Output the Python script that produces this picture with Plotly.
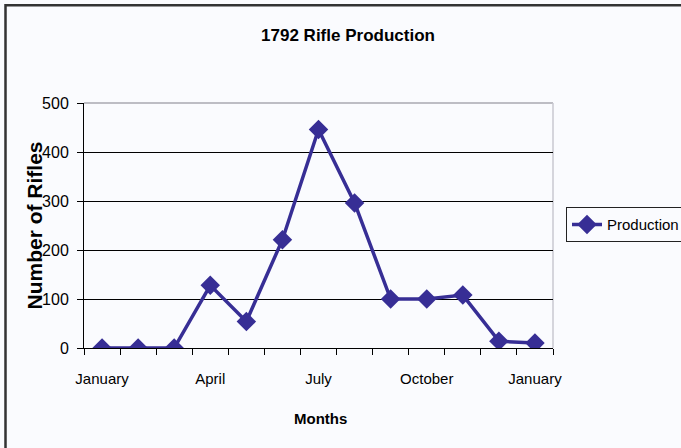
import plotly.graph_objects as go

months = ["January", "February", "March", "April", "May", "June", "July",
          "August", "September", "October", "November", "December", "January"]
production = [0, 0, 0, 128, 54, 221, 446, 296, 100, 100, 108, 14, 10]
label_idx = [0, 3, 6, 9, 12]
y_ticks = [0, 100, 200, 300, 400, 500]

W, H = 681, 448
L, R, T, B = 84, 553, 102.7, 347.7
PW, PH = R - L, B - T

def px(x):
    return (x - L) / PW

def py(y):
    return (B - y) / PH

FONT = "Liberation Sans, Arial, sans-serif"
color = "#372E95"
bg = "#FAFBFE"

x_idx = list(range(len(months)))

fig = go.Figure()
fig.add_trace(go.Scatter(
    x=x_idx, y=production, mode="lines+markers", name="Production",
    line=dict(color=color, width=3.5),
    marker=dict(symbol="diamond", size=15, color=color),
))

fig.update_layout(
    width=W, height=H,
    margin=dict(l=L, r=W - R, t=T, b=H - B, pad=0, autoexpand=False),
    paper_bgcolor=bg, plot_bgcolor=bg,
    title=dict(text="<b>1792 Rifle Production</b>", x=px(348), xref="paper", xanchor="center",
               y=1 - 35 / H, yref="container", yanchor="middle",
               font=dict(family=FONT, size=17, color="black")),
    showlegend=True,
    legend=dict(x=px(566), y=py(207), xanchor="left", yanchor="top",
                bordercolor="#222", borderwidth=1, bgcolor=bg,
                font=dict(family=FONT, size=15, color="black"),
                itemwidth=30, tracegroupgap=0),
    xaxis=dict(range=[-0.5, len(months) - 0.5], tickmode="array",
               tickvals=label_idx, ticktext=[months[i] for i in label_idx],
               ticks="", showgrid=False, zeroline=False,
               showline=True, linecolor="black", linewidth=1,
               tickfont=dict(family=FONT, size=15, color="black"),
               ticklabelstandoff=17,
               minor=dict(tickmode="linear", tick0=-0.5, dtick=1, ticks="outside",
                          ticklen=6, tickcolor="black", showgrid=False)),
    yaxis=dict(range=[0, 500], tickmode="array", tickvals=y_ticks,
               ticks="outside", ticklen=6, tickcolor="black",
               showgrid=True, gridcolor="black", gridwidth=1, zeroline=False,
               showline=True, linecolor="black", linewidth=1,
               tickfont=dict(family=FONT, size=16, color="black"),
               ticklabelstandoff=5),
    annotations=[
        dict(text="<b>Number of Rifles</b>", x=px(34), y=0.5, xref="paper", yref="paper",
             xanchor="center", yanchor="middle", textangle=-90, showarrow=False,
             font=dict(family=FONT, size=21, color="black")),
        dict(text="<b>Months</b>", x=px(320), y=py(418), xref="paper", yref="paper",
             xanchor="center", yanchor="middle", showarrow=False,
             font=dict(family=FONT, size=15, color="black")),
    ],
    shapes=[
        dict(type="line", xref="paper", yref="paper", x0=0, x1=1, y0=1, y1=1,
             line=dict(color="#A8A8B0", width=1.5), layer="between"),
        dict(type="line", xref="paper", yref="paper", x0=1, x1=1, y0=0, y1=1,
             line=dict(color="#C8C8D0", width=1.5), layer="between"),
        dict(type="rect", xref="paper", yref="paper", x0=px(5.5), x1=px(700),
             y0=py(470), y1=py(5), line=dict(color="#333", width=2.5), layer="above"),
    ],
)

fig.write_html(
    "out.html",
    config={"displayModeBar": False},
    post_script="document.body.style.margin='0';document.body.style.padding='0';"
                "document.body.style.background='#FAFBFE';",
)
